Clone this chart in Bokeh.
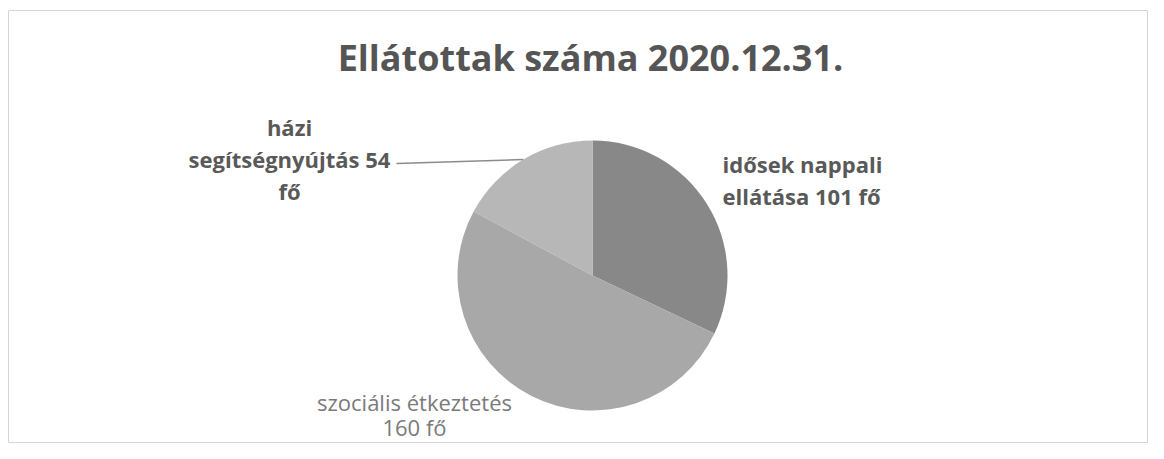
import numpy as np
from bokeh.plotting import figure
from bokeh.models import Range1d
from bokeh.embed import file_html
from bokeh.resources import INLINE
from bokeh.core.properties import value

# ---- data ----
title_text = "Ellátottak száma 2020.12.31."
categories = ["idősek nappali ellátása", "szociális étkeztetés", "házi segítségnyújtás"]
values = [101, 160, 54]
unit = "fő"
colors = ["#888888", "#a8a8a8", "#b7b7b7"]

# ---- layout ----
W, H = 1148, 443
LB, TB = 8, 10
FONT = "Open Sans"
p = figure(width=W, height=H, x_range=Range1d(LB, W), y_range=Range1d(0, H - TB),
           output_backend="svg", toolbar_location=None,
           min_border_left=LB, min_border_top=TB, min_border_right=0, min_border_bottom=0)
p.axis.visible = False
p.grid.visible = False
p.outline_line_color = "#d4d4d4"
p.outline_line_width = 1
p.background_fill_color = "white"
p.border_fill_color = "white"

def sy(y):  # picture y -> data y
    return H - y

cx, cy, r = 592, sy(275), 135
total = sum(values)
frac = np.cumsum([0] + values) / total
start = np.pi / 2 - frac[:-1] * 2 * np.pi
end = np.pi / 2 - frac[1:] * 2 * np.pi
p.wedge(x=cx, y=cy, radius=r, start_angle=list(start), end_angle=list(end),
        direction="clock", fill_color=colors, line_color=None)

# title
p.text(x=[590], y=[sy(57)], text=[title_text], text_font=value(FONT),
       text_font_style="bold", text_font_size="36px", text_color="#555555",
       text_align="center", text_baseline="middle")

# labels
w0 = categories[0].split(" ")
lab0 = [" ".join(w0[:2]), f"{w0[2]} {values[0]} {unit}"]
lab1 = [categories[1], f"{values[1]} {unit}"]
w2 = categories[2].split(" ")
lab2 = [w2[0], f"{w2[1]} {values[2]}", unit]

def lines(lab, x, y0, step, align, style, color, size):
    ys = [sy(y0 + i * step) for i in range(len(lab))]
    p.text(x=[x] * len(lab), y=ys, text=lab, text_font=value(FONT),
           text_font_style=style, text_font_size=size, text_color=color,
           text_align=align, text_baseline="middle")

lines(lab0, 722, 163, 32, "left", "bold", "#595959", "22px")
lines(lab1, 414, 401, 25, "center", "normal", "#7a7a7a", "22px")
lines(lab2, 289, 126, 32, "center", "bold", "#595959", "22px")

# leader line for last slice
mid = np.pi / 2 - (frac[2] + frac[3]) / 2 * 2 * np.pi
ex, ey = cx + r * np.cos(mid), cy + r * np.sin(mid)
p.line(x=[396, ex], y=[sy(163), ey], line_color="#8c8c8c", line_width=1.5)

open("out.html", "w").write(file_html(p, INLINE))
